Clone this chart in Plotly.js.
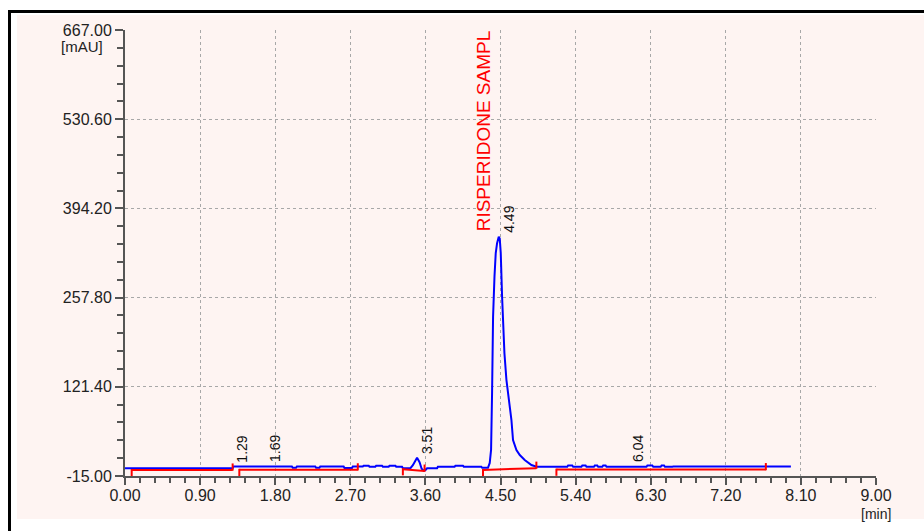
<!DOCTYPE html>
<html>
<head>
<meta charset="utf-8">
<script src="https://cdn.plot.ly/plotly-3.0.1.min.js"></script>
<style>html,body{margin:0;padding:0;background:#fff;}#chart{width:924px;height:531px;}</style>
</head>
<body>
<div id="chart"></div>
<script>
// ---- Chromatogram signal (time in min, absorbance in mAU) ----
var sigTime = [0.00, 1.29, 1.30, 2.00, 2.01, 2.05, 2.06, 2.28, 2.29, 2.33, 2.34, 2.62, 2.63, 2.72, 2.73,
  2.85, 2.86, 2.92, 2.93, 3.00, 3.01, 3.08, 3.09, 3.16, 3.17, 3.24, 3.25, 3.32, 3.33, 3.42,
  3.45, 3.47, 3.50, 3.53, 3.555, 3.58, 3.60, 3.62, 3.74, 3.75, 3.95, 3.96, 4.05, 4.06, 4.27, 4.28, 4.35,
  4.371, 4.387, 4.399, 4.411, 4.428, 4.443, 4.459, 4.479, 4.491, 4.503, 4.519, 4.547, 4.571, 4.602,
  4.631, 4.650, 4.691, 4.731, 4.790, 4.871, 4.931,
  5.30, 5.31, 5.36, 5.37, 5.47, 5.48, 5.52, 5.53, 5.62, 5.63, 5.66, 5.67, 5.72, 5.73, 5.76, 5.77,
  6.25, 6.26, 6.32, 6.33, 6.42, 6.43, 6.46, 6.47, 6.56, 6.57, 7.98];
var sigValue = [-3.0, -3.0, -0.5, -0.5, -2.5, -2.5, -0.5, -0.5, -2.5, -2.5, -0.5, -0.5, -2.8, -2.8, -0.5,
  -0.5, 0.8, 0.8, -0.8, -0.8, 0.8, 0.8, -0.8, -0.8, 0.8, 0.8, -0.8, -0.8, -3.0, -3.0,
  1.5, 7.0, 13.0, 6.0, -4.0, -7.0, -6.0, -3.2, -3.2, -0.8, -0.8, 0.8, 0.8, -0.8, -0.8, -2.5, -2.5,
  5.0, 24.8, 112.0, 228.6, 290.0, 326.0, 341.0, 351.0, 348.0, 326.0, 259.0, 173.0, 132.0, 101.0,
  70.6, 40.0, 24.8, 17.0, 9.5, 1.8, -0.8,
  -0.8, 1.0, 1.0, -0.8, -0.8, 1.0, 1.0, -0.8, -0.8, 1.0, 1.0, -0.8, -0.8, 1.0, 1.0, -0.8,
  -0.8, 1.0, 1.0, -0.8, -0.8, 1.0, 1.0, -0.8, -0.8, -0.5, -0.5];

// ---- Integration baselines ----
var blStart = [0.08, 1.37, 3.33, 4.29, 5.17];
var blEnd = [1.29, 2.79, 3.59, 4.93, 7.68];
var blStartY = [-5.8, -5.5, -4.5, -5.8, -5.2];
var blEndY = [-5.8, -5.5, -7.5, -3.0, -5.2];

// ---- Peak labels ----
var peakNames = ["1.29", "1.69", "3.51", "4.49", "6.04"];
var peakTimes = [1.29, 1.69, 3.51, 4.49, 6.04];
var peakTops = [-0.5, -0.5, 13.0, 351.0, -0.5];
var compoundName = "RISPERIDONE SAMPL";
var compoundPeak = 3; // index into peak arrays

// ---- Axis ticks ----
var xTickVals = [0, 0.9, 1.8, 2.7, 3.6, 4.5, 5.4, 6.3, 7.2, 8.1, 9.0];
var xTickText = ["0.00", "0.90", "1.80", "2.70", "3.60", "4.50", "5.40", "6.30", "7.20", "8.10", "9.00"];
var yTickVals = [-15, 121.4, 257.8, 394.2, 530.6, 667];
var yTickText = ["-15.00", "121.40", "257.80", "394.20", "530.60", "667.00"];
var xUnit = "[min]";
var yUnit = "[mAU]";

// build baseline trace (segments with end markers)
var TICK_DOWN = 10, TICK_UP = 10;
var blx = [], bly = [];
for (var i = 0; i < blStart.length; i++) {
  blx.push(blStart[i], blStart[i], null);
  bly.push(blStartY[i] + 1.5, blStartY[i] - TICK_DOWN + 0.5, null);
  blx.push(blStart[i], blEnd[i], null);
  bly.push(blStartY[i], blEndY[i], null);
  blx.push(blEnd[i], blEnd[i], null);
  bly.push(blEndY[i] - 1, blEndY[i] + TICK_UP, null);
}

var traces = [
  {x: sigTime, y: sigValue, type: 'scatter', mode: 'lines',
   line: {color: '#0000FF', width: 2}, hoverinfo: 'skip', cliponaxis: true},
  {x: blx, y: bly, type: 'scatter', mode: 'lines', connectgaps: false,
   line: {color: '#FF0000', width: 2}, hoverinfo: 'skip'}
];

var annotations = [];
for (var k = 0; k < peakNames.length; k++) {
  annotations.push({x: peakTimes[k], y: peakTops[k], xref: 'x', yref: 'y', text: peakNames[k],
    showarrow: false, textangle: -90, xanchor: 'left', yanchor: 'bottom', xshift: -1, yshift: 2,
    font: {family: 'Liberation Sans, Arial, sans-serif', size: 14, color: '#111'}});
}
annotations.push({x: peakTimes[compoundPeak], y: peakTops[compoundPeak], xref: 'x', yref: 'y',
  text: compoundName, showarrow: false, textangle: -90, xanchor: 'right', yanchor: 'bottom',
  xshift: -4, yshift: 3, font: {family: 'Liberation Sans, Arial, sans-serif', size: 19, color: '#FF0000'}});
annotations.push({x: 0, y: 1, xref: 'paper', yref: 'paper', text: yUnit, showarrow: false,
  xanchor: 'right', yanchor: 'middle', xshift: -20, yshift: -16,
  font: {family: 'Liberation Sans, Arial, sans-serif', size: 15, color: '#222'}});
annotations.push({x: 1, y: 0, xref: 'paper', yref: 'paper', text: xUnit, showarrow: false,
  xanchor: 'center', yanchor: 'top', xshift: 0, yshift: -29, borderpad: 0,
  font: {family: 'Liberation Sans, Arial, sans-serif', size: 14, color: '#222'}});

var W = 751, H = 446, L = 125, T = 30;
function px(v) { return (v - L) / W; }
function py(v) { return (T + H - v) / H; }

var layout = {
  width: 924, height: 531,
  margin: {l: 125, r: 48, t: 30, b: 55, pad: 0},
  paper_bgcolor: '#FFFFFF', plot_bgcolor: '#FEF4F2',
  showlegend: false,
  font: {family: 'Liberation Sans, Arial, sans-serif', size: 16, color: '#222'},
  xaxis: {range: [0, 9], tickmode: 'array', tickvals: xTickVals, ticktext: xTickText,
    showline: true, linecolor: '#555', linewidth: 2, ticks: 'outside', ticklen: 7, tickwidth: 2,
    tickcolor: '#555', showgrid: true, gridcolor: '#A8A8A8', griddash: 'dot', gridwidth: 1,
    zeroline: false, tickfont: {size: 16, color: '#222'}, fixedrange: true, ticklabelstandoff: -3,
    minor: {dtick: 0.18, tick0: 0, ticklen: 5, tickwidth: 2, tickcolor: '#555', showgrid: false}},
  yaxis: {range: [-15, 667], tickmode: 'array', tickvals: yTickVals, ticktext: yTickText,
    showline: true, linecolor: '#555', linewidth: 2, ticks: 'outside', ticklen: 8, tickwidth: 2,
    tickcolor: '#555', showgrid: true, gridcolor: '#A8A8A8', griddash: 'dot', gridwidth: 1,
    zeroline: false, tickfont: {size: 16, color: '#222'}, fixedrange: true,
    minor: {dtick: 27.28, tick0: -15, ticklen: 6, tickwidth: 2, tickcolor: '#555', showgrid: false}},
  annotations: annotations,
  shapes: [
    {type: 'rect', xref: 'paper', yref: 'paper', x0: px(17), x1: px(930), y0: py(519), y1: py(15),
     fillcolor: '#FEF4F2', line: {width: 0}, layer: 'below'},
    {type: 'line', xref: 'paper', yref: 'paper', x0: px(8), x1: px(930), y0: py(11.5), y1: py(11.5),
     line: {color: '#000', width: 3}, layer: 'above'},
    {type: 'line', xref: 'paper', yref: 'paper', x0: px(9.5), x1: px(9.5), y0: py(11.5), y1: py(540),
     line: {color: '#000', width: 3}, layer: 'above'}
  ]
};

Plotly.newPlot('chart', traces, layout, {staticPlot: true, displayModeBar: false});
</script>
</body>
</html>
